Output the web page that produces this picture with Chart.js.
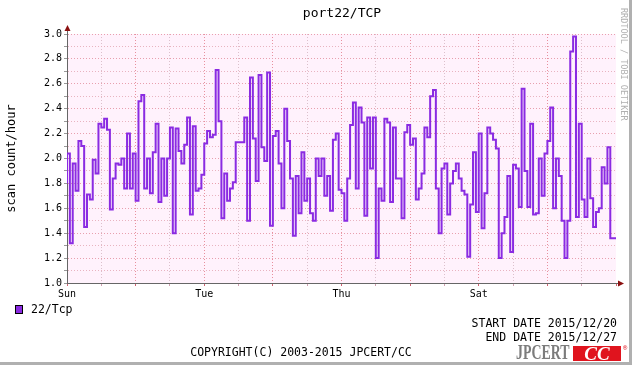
<!DOCTYPE html>
<html>
<head>
<meta charset="utf-8">
<title>port22/TCP</title>
<script src="https://cdn.jsdelivr.net/npm/chart.js@4.4.0/dist/chart.umd.min.js"></script>
<style>
  html, body { margin: 0; padding: 0; background: #fff; }
  #wrap {
    position: relative; width: 632px; height: 365px; overflow: hidden;
    font-family: "DejaVu Sans Mono", monospace; color: #000; background: #fff;
  }
  #wrap canvas { position: absolute; left: 0; top: 0; }
  .txt { position: absolute; white-space: nowrap; font-size: 11.5px; line-height: 14px; }
  #frameR { position: absolute; right: 0; top: 0; width: 3px; height: 365px; background: #b0b0b0; }
  #frameB { position: absolute; left: 0; bottom: 0; width: 632px; height: 3px; background: #b0b0b0; }
  #title { left: 342px; top: 5px; font-size: 13px; line-height: 16px; transform: translateX(-50%); }
  #legendBox { position: absolute; left: 15px; top: 305px; width: 6px; height: 7px; background: #8a2be2; border: 1px solid #000; }
  #legendTxt { left: 31px; top: 302px; }
  #startDate { right: 15px; top: 316px; }
  #endDate { right: 15px; top: 330px; }
  #copy { left: 301px; top: 345px; transform: translateX(-50%); }
  #rrd {
    position: absolute; left: 624px; top: 8px; font-size: 8.5px; line-height: 10px; color: #b0b0b0;
    transform-origin: 0 0; transform: rotate(90deg) translateY(-5px); white-space: nowrap;
  }
  #logo { position: absolute; left: 516px; top: 345px; height: 16px; }
  #logo .jp {
    position: absolute; left: 0; top: -4px; font-family: "Liberation Serif", serif; font-weight: bold;
    font-size: 21px; line-height: 22px; color: #7c7c7c; transform-origin: 0 0; transform: scaleX(0.66);
  }
  #logo .cc {
    position: absolute; left: 57px; top: 1px; width: 48px; height: 15px; background: #e0141e; color: #fff;
    font-family: "Liberation Serif", serif; font-weight: bold; font-style: italic; font-size: 19px;
    line-height: 15px; text-align: center; overflow: hidden;
  }
  #logo .reg { position: absolute; left: 107px; top: -1px; font-size: 7px; line-height: 8px; color: #e0141e; }
</style>
</head>
<body>
<div id="wrap">
  <canvas id="chart" width="632" height="365"></canvas>
  <div class="txt" id="title">port22/TCP</div>
  <div id="legendBox"></div>
  <div class="txt" id="legendTxt">22/Tcp</div>
  <div class="txt" id="startDate">START DATE 2015/12/20</div>
  <div class="txt" id="endDate">END DATE 2015/12/27</div>
  <div class="txt" id="copy">COPYRIGHT(C) 2003-2015 JPCERT/CC</div>
  <div id="rrd">RRDTOOL / TOBI OETIKER</div>
  <div id="logo"><span class="jp">JPCERT</span><span class="cc">CC</span><span class="reg">®</span></div>
  <div id="frameR"></div>
  <div id="frameB"></div>
</div>
<script>
// hourly scan counts, 2015/12/20 00:00 - 2015/12/28 00:00
const scanCounts = [
  1.80, 2.04, 1.32, 1.96, 1.74, 2.14, 2.10, 1.45, 1.71, 1.67, 1.99, 1.88, 2.28, 2.25, 2.32, 2.23,
  1.59, 1.84, 1.96, 1.95, 2.00, 1.76, 2.20, 1.76, 2.04, 1.66, 2.46, 2.51,
  1.76, 2.00, 1.72, 2.05, 2.28, 1.65, 2.00, 1.70, 2.00, 2.25, 1.40, 2.24, 2.06, 1.96, 2.11, 2.33,
  1.55, 2.26, 1.74, 1.76, 1.87, 2.12, 2.22, 2.17, 2.19, 2.71, 2.30,
  1.52, 1.88, 1.66, 1.76, 1.81, 2.13, 2.13, 2.13, 2.33, 1.50, 2.65, 2.16, 1.82, 2.67, 2.09, 1.98,
  2.69, 1.46, 2.18, 2.22, 1.96, 1.60, 2.40, 2.14, 1.84, 1.38, 1.86,
  1.56, 2.05, 1.66, 1.84, 1.56, 1.50, 2.00, 1.86, 2.00, 1.70, 1.86, 1.58, 2.15, 2.20, 1.75, 1.72,
  1.50, 1.84, 2.27, 2.45, 1.76, 2.41, 2.29, 1.54, 2.33, 1.92, 2.33, 1.20,
  1.76, 1.66, 2.32, 2.29, 1.65, 2.25, 1.84, 1.84, 1.52, 2.21, 2.27, 2.11, 2.16, 1.67, 1.76, 1.88,
  2.25, 2.17, 2.50, 2.55, 1.76, 1.40, 1.92, 1.96, 1.55, 1.80, 1.90,
  1.96, 1.84, 1.74, 1.71, 1.21, 1.63, 2.05, 1.57, 2.20, 1.44, 1.72, 2.25, 2.20, 2.15, 2.08, 1.20,
  1.40, 1.53, 1.86, 1.25, 1.95, 1.92, 1.61, 2.56, 1.90, 1.61, 2.28,
  1.55, 1.56, 2.00, 1.70, 2.04, 2.14, 2.41, 1.60, 2.00, 1.86, 1.50, 1.20, 1.50, 2.86, 2.98, 1.53,
  2.28, 1.67, 1.53, 2.00, 1.68, 1.45, 1.57, 1.60, 1.93, 1.80, 2.09, 1.36
];
const dayLabels = ['Sun', 'Mon', 'Tue', 'Wed', 'Thu', 'Fri', 'Sat', 'Sun'];
const yTickLabels = ['1.0', '1.2', '1.4', '1.6', '1.8', '2.0', '2.2', '2.4', '2.6', '2.8', '3.0'];

const totalHours = dayLabels.length * 24;
const FONT = '"DejaVu Sans Mono", monospace';

// step points: each value holds for one hour, last one closed at the end
const points = scanCounts.map((v, i) => ({ x: i, y: v }));
points.push({ x: scanCounts.length, y: scanCounts[scanCounts.length - 1] });

const decor = {
  id: 'decor',
  beforeDraw(chart) {
    const { ctx, chartArea: a } = chart;
    ctx.save();
    ctx.fillStyle = '#fff2fc';
    ctx.fillRect(a.left, a.top, a.right - a.left, a.bottom - a.top);
    ctx.restore();
  },
  afterDraw(chart) {
    const { ctx, chartArea: a } = chart;
    const x0 = Math.round(a.left) + 0.5, y0 = Math.round(a.bottom) + 0.5;
    ctx.save();
    ctx.strokeStyle = '#666';
    ctx.lineWidth = 1;
    ctx.beginPath();
    ctx.moveTo(x0, a.top); ctx.lineTo(x0, a.top - 4);
    ctx.moveTo(a.right, y0); ctx.lineTo(a.right + 3, y0);
    ctx.stroke();
    ctx.fillStyle = '#8b1010';
    ctx.beginPath();
    ctx.moveTo(x0, a.top - 9); ctx.lineTo(x0 - 3, a.top - 3); ctx.lineTo(x0 + 3, a.top - 3);
    ctx.closePath(); ctx.fill();
    ctx.beginPath();
    ctx.moveTo(a.right + 8, y0); ctx.lineTo(a.right + 2, y0 - 3); ctx.lineTo(a.right + 2, y0 + 3);
    ctx.closePath(); ctx.fill();
    ctx.restore();
  }
};

const xGrid = v => {
  if (v >= totalHours) return 'rgba(0,0,0,0)';
  return v % 24 === 0 ? '#e8909e' : '#dcc0cc';
};
const yGrid = v => (yTickLabels.includes(v.toFixed(1)) ? '#e8a0ae' : '#e8b4c0');

new Chart(document.getElementById('chart'), {
  type: 'line',
  data: {
    datasets: [{
      label: '22/Tcp',
      data: points,
      stepped: 'after',
      borderColor: '#8a2be2',
      borderWidth: 2,
      pointRadius: 0,
      fill: false
    }]
  },
  options: {
    responsive: false,
    animation: false,
    layout: { padding: { top: 34, left: 0, right: 16, bottom: 62 } },
    plugins: { legend: { display: false }, title: { display: false }, tooltip: { enabled: false } },
    scales: {
      x: {
        type: 'linear',
        min: 0,
        max: totalHours,
        afterFit: s => { s.height = 20; },
        ticks: {
          stepSize: 12,
          autoSkip: false,
          maxRotation: 0,
          padding: 2,
          color: '#000',
          font: { family: FONT, size: 10 },
          callback: v => (v % 48 === 0 && v < totalHours ? dayLabels[v / 24] : '')
        },
        grid: {
          color: c => xGrid(c.tick.value),
          tickColor: c => (c.tick.value % 24 === 0 ? '#d06070' : '#d0a0b0'),
          tickLength: 3,
          lineWidth: 1
        },
        border: { color: '#666', width: 1, dash: [1, 2] }
      },
      y: {
        min: 1.0,
        max: 3.0,
        afterFit: s => { s.width = 67; },
        ticks: {
          stepSize: 0.1,
          autoSkip: false,
          padding: 2,
          color: '#000',
          font: { family: FONT, size: 10 },
          callback: v => (yTickLabels.includes(v.toFixed(1)) ? v.toFixed(1) : '')
        },
        grid: {
          color: c => yGrid(c.tick.value),
          tickColor: '#999',
          tickLength: 3,
          lineWidth: 1
        },
        border: { color: '#666', width: 1, dash: [1, 2] },
        title: {
          display: true,
          text: 'scan count/hour',
          color: '#000',
          font: { family: FONT, size: 12 },
          padding: { top: 5, bottom: 0 }
        }
      }
    }
  },
  plugins: [decor]
});
</script>
</body>
</html>
